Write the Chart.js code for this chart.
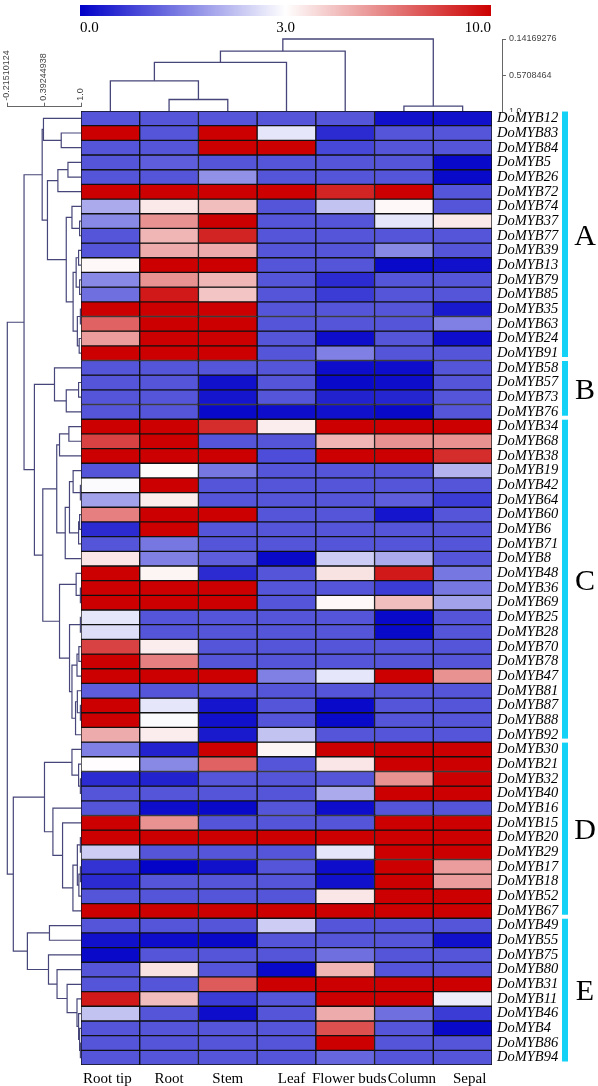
<!DOCTYPE html>
<html><head><meta charset="utf-8">
<script src="https://cdn.jsdelivr.net/npm/chart.js@4.4.1/dist/chart.umd.min.js"></script>
<style>
html,body{margin:0;padding:0;background:#fff;}
body{width:598px;height:1086px;position:relative;overflow:hidden;}
canvas{position:absolute;}
</style></head><body>
<canvas id="cbar" style="left:70px;top:0px" width="440" height="40"></canvas>
<canvas id="coltree" style="left:81px;top:30px" width="517" height="82"></canvas>
<canvas id="rowtree" style="left:0px;top:12px" width="92" height="1053"></canvas>
<canvas id="heat" style="left:81px;top:111px" width="517" height="975"></canvas>
<script>
// ---------- data ----------
const tissues = ['Root tip','Root','Stem','Leaf','Flower buds','Column','Sepal'];
const genes = ['DoMYB12','DoMYB83','DoMYB84','DoMYB5','DoMYB26','DoMYB72','DoMYB74','DoMYB37','DoMYB77','DoMYB39',
 'DoMYB13','DoMYB79','DoMYB85','DoMYB35','DoMYB63','DoMYB24','DoMYB91','DoMYB58','DoMYB57','DoMYB73',
 'DoMYB76','DoMYB34','DoMYB68','DoMYB38','DoMYB19','DoMYB42','DoMYB64','DoMYB60','DoMYB6','DoMYB71',
 'DoMYB8','DoMYB48','DoMYB36','DoMYB69','DoMYB25','DoMYB28','DoMYB70','DoMYB78','DoMYB47','DoMYB81',
 'DoMYB87','DoMYB88','DoMYB92','DoMYB30','DoMYB21','DoMYB32','DoMYB40','DoMYB16','DoMYB15','DoMYB20',
 'DoMYB29','DoMYB17','DoMYB18','DoMYB52','DoMYB67','DoMYB49','DoMYB55','DoMYB75','DoMYB80','DoMYB31',
 'DoMYB11','DoMYB46','DoMYB4','DoMYB86','DoMYB94'];

const rootTip = [1,10,1,1,1,10,2,1.6,1,1, 3.2,1.6,1.3,10,7.3,5.7,10,1,1,1, 1,10,8.2,10,1,2.95,1.9,6.5,0.5,1,
 3.7,10,10,10,2.7,2.6,8.2,10,10,1.1, 10,10,5.3,1.5,3.05,0.5,1,1,10,10, 2.4,0.6,0.5,1,10,1,0.2,0.1,1,1, 9.3,2.3,1,1,1];
const root = [1,1,1,1.1,1,10,3.6,6,5,5.3, 10,6,9.3,10,10,10,10,1,1,1, 1,10,10,10,3.1,10,3.5,10,10,1.4,
 1.5,3.3,10,10,1,1,3.5,6.5,10,1, 2.7,2.95,3.5,0.4,1.6,0.4,1,0.15,6,10, 1,0.05,1,1,10,1,0.15,1,3.8,1, 4.8,1,1,1,1];
const stem = [1,10,10,1,1.7,10,4.8,10,9,5.3, 10,5,4.6,10,10,10,10,1,0.2,0.25, 0.1,8.8,1,10,1.4,1,1,10,1,1,
 1.1,0.5,10,10,1,1,1,1,10,1, 0.25,0.2,0.3,10,7.3,1,1,0.1,1,10, 1,0.2,1,1,10,1,0.1,1,1,7.5, 0.7,0.15,1,1,1];
const leaf = [1,2.7,10,1,1,10,1,1,1,1, 1,1,1,1,1,1,1,1,1,1, 0.15,3.5,1,0.9,1,1,1,1,1,1,
 0.1,1,1,1,1,1,1,1,1.5,1, 1,1,2.3,3.3,1,1,1,1,1,10, 1,1,1,1,10,2.4,1,1,0.1,10, 1,1,1,1,1];
const flowerBuds = [1,0.5,0.85,1,1,9,2.3,1,1,1, 1,0.5,0.7,1,1,0.15,1.5,0.15,0.1,0.4, 0.2,10,5,10,1,1,1,1,1,1,
 2.4,3.8,1,3.2,1,1,1,1,2.7,1, 0.1,0.1,1,10,3.7,1,2,0.15,1,10, 2.7,0.15,0.2,3.7,10,1,1,1.3,5,10, 10,5.3,7.8,10,1.2];
const column = [0.2,1,1,1,1,10,3.2,2.7,1,1.6, 0.1,1,1,1,1,1,1,0.15,0.15,0.45, 0.1,10,6,10,1,1,1.1,0.25,1,1,
 2,9.3,0.7,4.8,0.1,0.1,1,1,10,1, 1,1,1,10,10,6,10,1,10,10, 10,10,10,10,10,1,1,1,1,10, 10,1.3,1,1,1];
const sepal = [0.2,1,1,0.1,0.1,1,1,3.6,1,1, 0.2,1,1,0.3,1.5,0.15,1,1,1,1, 1,10,6,8.8,2.1,1,0.7,1,1,1,
 1,1.4,1.4,1.9,1,1,1,1,6,1, 1,1,1,10,10,10,10,1,10,10, 10,5.7,5.7,10,10,1,0.2,1,1,10, 2.8,0.7,0.1,1,1];
const series = [rootTip, root, stem, leaf, flowerBuds, column, sepal];

const groupNames = ['A','B','C','D','E'];
const groupSizes = [17,4,22,12,10];
const colorTicks = [0, 3, 10];
const colDistTicks = [0.14169276, 0.5708464, 1.0];
const rowDistTicks = [-0.21510124, 0.39244938, 1.0];

// column dendrogram merges: [childA, childB, height]; numbers refer to earlier merges
const colMerges = [
 ['Root','Stem',0.853], ['Root tip',0,0.634], [1,'Leaf',0.416], [2,'Flower buds',0.285],
 ['Column','Sepal',0.932], [3,4,0.14169276]
];
// row dendrogram merges
const rowMerges = [
 ['DoMYB83','DoMYB84',0.674], ['DoMYB12',0,0.381], ['DoMYB5','DoMYB26',0.785], [2,'DoMYB72',0.619],
 ['DoMYB37','DoMYB77',0.977], ['DoMYB74',4,0.851], ['DoMYB39','DoMYB13',0.96], ['DoMYB79','DoMYB85',0.977],
 [6,7,0.92], ['DoMYB35','DoMYB63',0.99], ['DoMYB24','DoMYB91',0.97], [9,10,0.94],
 [8,11,0.87], [5,12,0.757], [3,13,0.447], [1,14,0.360],
 ['DoMYB57','DoMYB73',0.96], [16,'DoMYB76',0.757], ['DoMYB58',17,0.563],
 ['DoMYB34','DoMYB68',0.80], [19,'DoMYB38',0.646], ['DoMYB42','DoMYB64',0.99], ['DoMYB19',21,0.87],
 ['DoMYB60','DoMYB6',0.977], [23,'DoMYB71',0.96], [22,24,0.81], [25,'DoMYB8',0.74], [20,26,0.60],
 ['DoMYB36','DoMYB69',0.99], ['DoMYB48',28,0.92], ['DoMYB25','DoMYB28',0.99], ['DoMYB70','DoMYB78',0.965],
 [31,'DoMYB47',0.934], ['DoMYB87','DoMYB88',0.99], ['DoMYB81',33,0.94], [34,'DoMYB92',0.91],
 [32,35,0.851], [30,36,0.811], [29,37,0.646], [27,38,0.37], [18,39,0.232], [15,40,0.061],
 ['DoMYB32','DoMYB40',0.99], ['DoMYB21',42,0.96], ['DoMYB30',43,0.851], ['DoMYB20','DoMYB29',0.99],
 ['DoMYB17','DoMYB18',0.99], [46,'DoMYB52',0.965], [45,47,0.94], [48,'DoMYB67',0.867],
 ['DoMYB15',49,0.696], ['DoMYB16',50,0.537], [44,51,0.398],
 ['DoMYB49','DoMYB55',0.48], ['DoMYB86','DoMYB94',0.99], ['DoMYB4',54,0.977], ['DoMYB46',55,0.96],
 ['DoMYB11',56,0.934], ['DoMYB31',57,0.771], ['DoMYB80',58,0.605], ['DoMYB75',59,0.464],
 [53,60,0.116], [52,61,-0.116], [41,62,-0.21510124]
];

// ---------- styling / layout ----------
const HM_W = 411, HM_H = 954, ROW_H = HM_H / genes.length, COL_W = HM_W / tissues.length;
const LINE = 'rgb(70,70,122)';
const tissueLabelShift = [-3, 0, 0, 5, 4, 8, 7];   // px nudges of the tissue captions
const cLo = [0,0,200], cMid = [255,255,255], cHi = [204,0,0];
function heatColor(v){
  let a,b,t;
  if (v <= colorTicks[1]) { a=cLo; b=cMid; t=(v-colorTicks[0])/(colorTicks[1]-colorTicks[0]); }
  else { a=cMid; b=cHi; t=Math.min(1,(v-colorTicks[1])/(colorTicks[2]-colorTicks[1])); }
  const c = a.map((x,i)=>Math.round(x+(b[i]-x)*t));
  return `rgb(${c[0]},${c[1]},${c[2]})`;
}
function treeSegments(merges, leafPos, leafH, horizontal){
  const nodes = [];
  const get = r => typeof r === 'number' ? nodes[r] : {pos: leafPos(r), h: leafH};
  return merges.map(([a,b,h]) => {
    const A = get(a), B = get(b);
    nodes.push({pos:(A.pos+B.pos)/2, h});
    const pts = [[A.h,A.pos],[h,A.pos],[h,B.pos],[B.h,B.pos]];
    return pts.map(([hh,p]) => horizontal ? {x:hh, y:p} : {x:p, y:hh});
  });
}
const baseOpts = {responsive:false, animation:false, events:[], plugins:{legend:{display:false}, tooltip:{enabled:false}}};
const sans = {family:'"Liberation Sans", Arial, sans-serif', size:9};
const serif = 'Liberation Serif, "Times New Roman", serif';

// ---------- colour bar ----------
new Chart(document.getElementById('cbar'), {
  type:'bar',
  data:{labels:[''], datasets:[{data:[[0, colorTicks.length-1]], borderWidth:0, barPercentage:1, categoryPercentage:1,
    backgroundColor: c => {
      const a = c.chart.chartArea; if (!a) return heatColor(colorTicks[1]);
      const g = c.chart.ctx.createLinearGradient(a.left,0,a.right,0);
      const n = 40;
      for (let i=0;i<=n;i++){
        const p = i/n*(colorTicks.length-1), k = Math.min(Math.floor(p), colorTicks.length-2);
        const v = colorTicks[k] + (p-k)*(colorTicks[k+1]-colorTicks[k]);
        g.addColorStop(i/n, heatColor(v));
      }
      return g;
    }}]},
  options:{...baseOpts, indexAxis:'y', layout:{padding:{left:10,right:19,top:5}},
    scales:{
      x:{type:'linear', min:0, max:colorTicks.length-1,
        afterBuildTicks(s){ s.ticks = colorTicks.map((v,i)=>({value:i})); },
        ticks:{callback:(v,i)=>colorTicks[i].toFixed(1), align:'inner', font:{family:serif,size:15}, color:'#000', padding:3, maxRotation:0},
        grid:{display:false, drawTicks:false}, border:{display:false},
        afterFit(s){ s.height = 24; s.paddingLeft = 0; s.paddingRight = 0; }},
      y:{display:false}
    }}
});

// ---------- column dendrogram ----------
const colSegs = treeSegments(colMerges, r => tissues.indexOf(r), 1.0, false);
new Chart(document.getElementById('coltree'), {
  type:'scatter',
  data:{datasets: colSegs.map(s => ({data:s, showLine:true, pointRadius:0, borderColor:LINE, borderWidth:1.3, tension:0, clip:4}))},
  options:{...baseOpts, layout:{padding:{top:9}},
    scales:{
      x:{type:'linear', min:-0.5, max:-0.5 + 421/COL_W, display:false},
      y:{type:'linear', position:'right', reverse:true, min:colDistTicks[0], max:colDistTicks[2],
        afterBuildTicks(s){ s.ticks = colDistTicks.map(v=>({value:v})); },
        ticks:{callback:v => v===1 ? '1.0' : String(v), font:sans, color:'#444', padding:3},
        grid:{drawOnChartArea:false, tickLength:4, color:'#666'}, border:{color:'#666'},
        afterFit(s){ s.width = 96; s.paddingTop = 0; s.paddingBottom = 0; }}
    }}
});

// ---------- row dendrogram ----------
const rowSegs = treeSegments(rowMerges, r => genes.indexOf(r) + 0.5, 1.0, true);
new Chart(document.getElementById('rowtree'), {
  type:'scatter',
  data:{datasets: rowSegs.map(s => ({data:s, showLine:true, pointRadius:0, borderColor:LINE, borderWidth:1.2, tension:0, clip:4}))},
  options:{...baseOpts, layout:{padding:{left:7.3, right:11}},
    scales:{
      x:{type:'linear', position:'top', min:rowDistTicks[0], max:rowDistTicks[2],
        afterBuildTicks(s){ s.ticks = rowDistTicks.map(v=>({value:v})); },
        ticks:{callback:v => v===1 ? '1.0' : String(v), minRotation:90, maxRotation:90, autoSkip:false, font:sans, color:'#444', padding:2, labelOffset:10},
        grid:{drawOnChartArea:false, tickLength:4, color:'#666'}, border:{color:'#666'},
        afterFit(s){ s.height = 94.7; s.paddingLeft = 0; s.paddingRight = 0; }},
      y:{type:'linear', reverse:true, min:-(111-106.7)/ROW_H, max:genes.length, display:false}
    }}
});

// ---------- heatmap ----------
const groupPlugin = {
  id:'groups',
  afterDraw(chart){
    const {ctx, chartArea} = chart, y = chart.scales.y;
    let start = 0;
    groupSizes.forEach((n,i) => {
      const top = y.getPixelForValue(start), bot = y.getPixelForValue(start+n);
      ctx.save();
      ctx.fillStyle = '#14d2f5';
      ctx.fillRect(chartArea.right + 70, top + 0.5, 6, bot - top - 4);
      ctx.fillStyle = '#000';
      ctx.font = '30px ' + serif;
      ctx.textAlign = 'center'; ctx.textBaseline = 'middle';
      ctx.fillText(groupNames[i], chartArea.right + 93, (top + bot) / 2 + 1);
      ctx.restore();
      start += n;
    });
  }
};
new Chart(document.getElementById('heat'), {
  type:'bar',
  data:{labels:tissues, datasets: genes.map((g,r) => ({
    label:g, data: tissues.map(() => [r, r+1]),
    backgroundColor: series.map(s => heatColor(s[r])),
    borderColor:'#111', borderWidth:1, borderSkipped:false,
    grouped:false, barPercentage:1, categoryPercentage:1
  }))},
  options:{...baseOpts, layout:{padding:0},
    scales:{
      x:{type:'category', display:false},
      tissueAxis:{type:'linear', position:'bottom', offset:false, min:-0.5, max:tissues.length-0.5,
        afterBuildTicks(s){ s.ticks = tissues.map((t,i)=>({value: i + tissueLabelShift[i]/COL_W})); },
        ticks:{callback:(v,i)=>tissues[i], font:{family:serif, size:15}, color:'#000', padding:5, maxRotation:0, autoSkip:false},
        grid:{display:false, drawTicks:false, offset:false}, border:{display:false},
        afterFit(s){ s.height = 21; s.paddingLeft = 0; s.paddingRight = 0; }},
      y:{type:'linear', min:0, max:genes.length, reverse:true, display:false},
      genes:{type:'category', labels:genes, position:'right', offset:true,
        grid:{display:false, drawTicks:false}, border:{display:false},
        ticks:{font:{family:serif, size:14.5, style:'italic'}, color:'#000', padding:5, autoSkip:false},
        afterFit(s){ s.width = 106; s.paddingTop = 0; s.paddingBottom = 0; }}
    }},
  plugins:[groupPlugin]
});
</script>
</body></html>
